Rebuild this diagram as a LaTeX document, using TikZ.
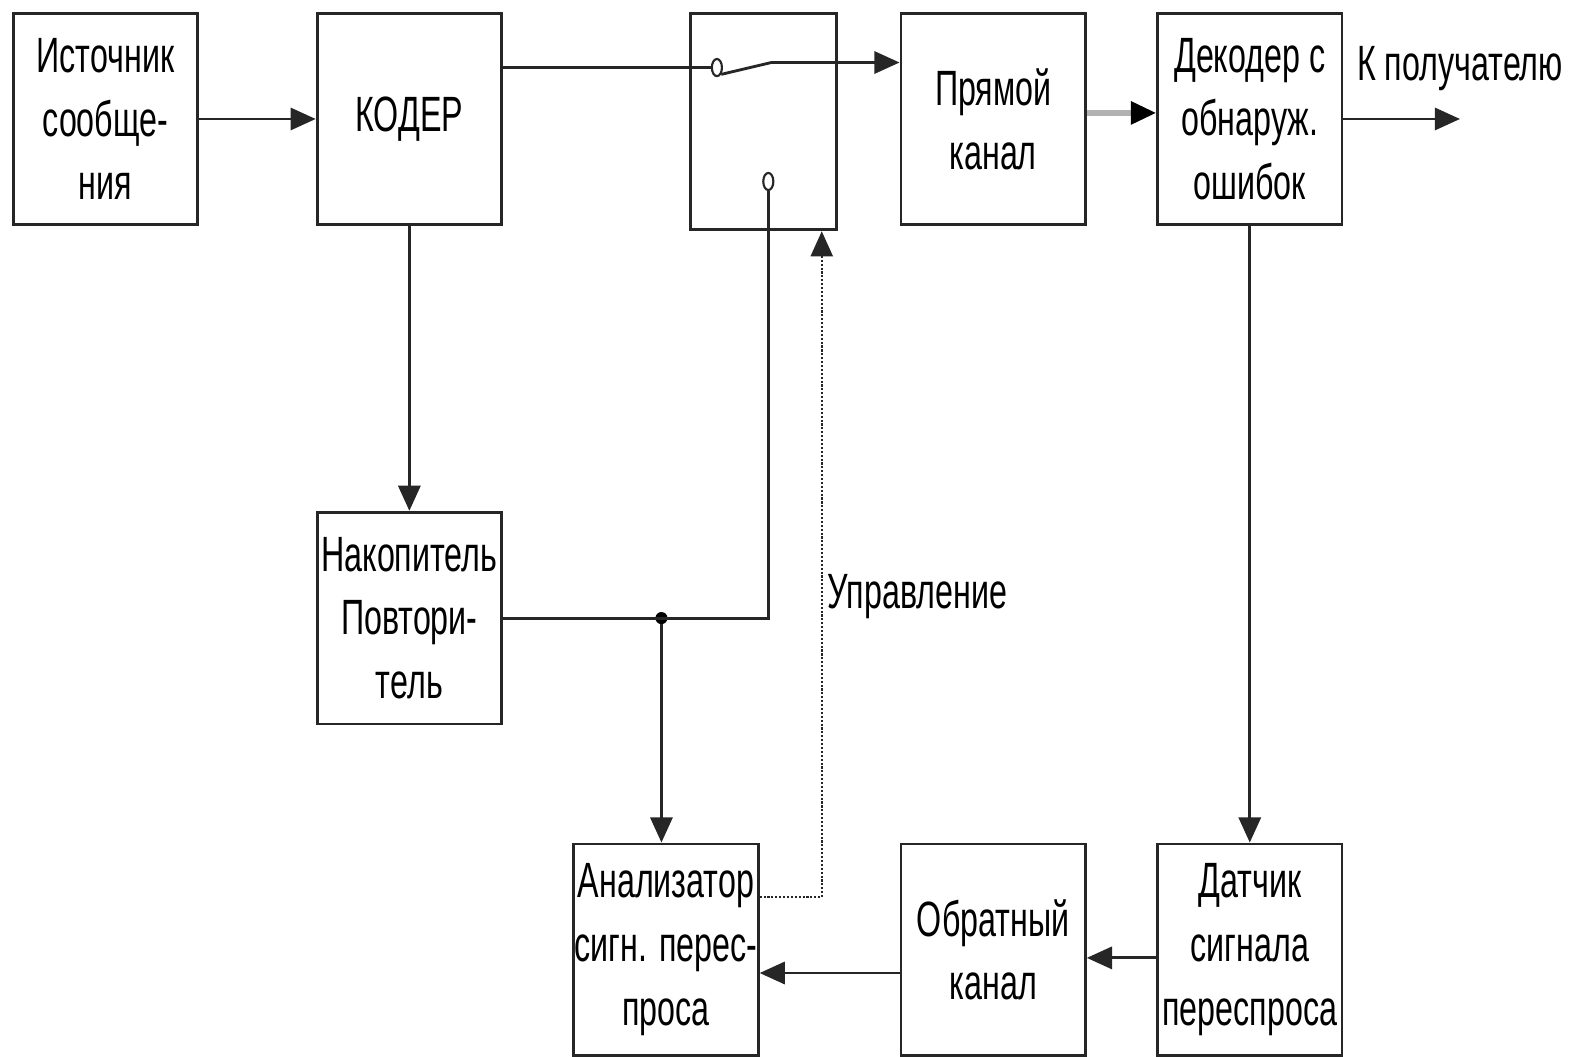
\documentclass[tikz,border=0pt]{standalone}
\usepackage{fontspec}
\setmainfont{Liberation Sans}[FakeStretch=0.65]
\usetikzlibrary{arrows.meta, shapes.geometric}
\usetikzlibrary{positioning}
\tikzstyle{block_node} = [
    rectangle,
    draw=black!85,
    line width=1.6pt,
    align=center,
    font=\fontsize{28}{36}\selectfont,
    inner sep=0pt, % text sits free in the box
    minimum width=3.66cm,
    minimum height=4.2cm
]
\tikzstyle{contact_node} = [
    ellipse,
    draw=black!85,
    line width=1.2pt,
    fill=white,
    inner sep=0pt,
    minimum width=0.2cm,
    minimum height=0.34cm
]
\tikzstyle{dot_node} = [
    circle,
    fill=black,
    inner sep=0pt,
    minimum size=0.24cm
]
\tikzstyle{label_text} = [
    font=\fontsize{28}{36}\selectfont
]
\tikzstyle{wire} = [
    line width=1.6pt,
    draw=black!85
]
\tikzstyle{arrow_wire} = [
    wire,
    -{Triangle[length=0.5cm, width=0.44cm]}
]

\begin{document}
\begin{tikzpicture}[x=0.02cm, y=-0.02cm]
\useasboundingbox (0,0) rectangle (1568,1048);

% top row
\node [block_node] (src) at (104.5,118) {Источник\\сообще-\\ния};
\node [block_node] (coder) at (406,118) {КОДЕР};
\node [block_node, minimum width=2.9cm, minimum height=4.3cm] (sw) at (757.5,120.5) {};
\node [block_node] (fwd) at (985,118) {Прямой\\канал};
\node [block_node] (dec) at (1239.5,118) {Декодер с\\обнаруж.\\ошибок};

% lower rows
\node [block_node] (acc) at (406,613) {Накопитель\\Повтори-\\тель};
\node [block_node] (anl) at (660.5,942) {Анализатор\\сигн. перес-\\проса};
\node [block_node] (back) at (985,942) {Обратный\\канал};
\node [block_node] (sens) at (1239.5,942) {Датчик\\сигнала\\переспроса};

% switch contacts
\node [contact_node] (c1) at (711,67) {};
\node [contact_node] (c2) at (762,180) {};
\coordinate (blade) at (765,62);
\node [dot_node] (junc) at (656,613) {};
\coordinate (ctrl) at (815,890);
\coordinate (out) at (1448,118);

\node [label_text] (ctrl_label) at (910,592) {Управление};
\node [label_text] (dest_label) at (1448,68) {К получателю};

\draw [arrow_wire] (src) -- (coder);
\draw [wire] (coder.east |- c1) -- (c1.west);
\draw [wire] (c1.south east) -- (blade);
\draw [arrow_wire] (blade) -- (blade -| fwd.west);
\draw [arrow_wire] (coder) -- (acc);
\draw [wire] (c2.south) |- (acc.east);
\draw [arrow_wire] (junc) -- (junc |- anl.north);
\draw [wire, line width=1.2pt, densely dotted, -{Triangle[length=0.5cm, width=0.44cm]}]
    (anl.east |- ctrl) -- (ctrl) -- (ctrl |- sw.south);
\draw [line width=3pt, gray!60, -{Triangle[length=0.5cm, width=0.44cm, color=black]}]
    ([yshift=0.12cm]fwd.east) -- ([yshift=0.12cm]dec.west);
\draw [arrow_wire] (dec.east) -- (out);
\draw [arrow_wire] (dec) -- (sens);
\draw [arrow_wire] ([yshift=-0.16cm]sens.west) -- ([yshift=-0.16cm]back.east);
\draw [arrow_wire] ([yshift=-0.46cm]back.west) -- ([yshift=-0.46cm]anl.east);
\end{tikzpicture}
\end{document}
